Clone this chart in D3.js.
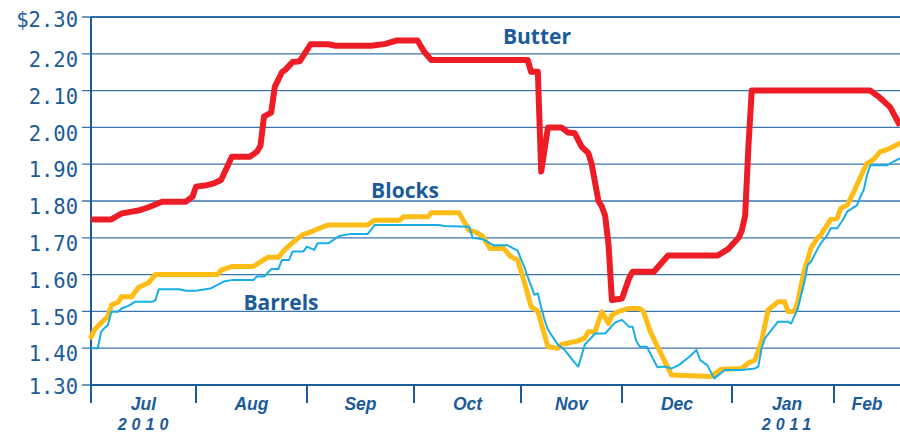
<!DOCTYPE html>
<html>
<head>
<meta charset="utf-8">
<script src="https://cdn.jsdelivr.net/npm/d3@7"></script>
<style>
  html, body { margin: 0; padding: 0; background: #fff; }
  svg { display: block; }
</style>
</head>
<body>
<svg id="chart" width="900" height="434"></svg>
<script>
// ---------------- DATA ----------------
const monthStarts = ["2010-07-01","2010-08-01","2010-09-01","2010-10-01","2010-11-01","2010-12-01","2011-01-01","2011-02-01"];
const monthLabels = ["Jul","Aug","Sep","Oct","Nov","Dec","Jan","Feb"];
const yearLabels = [["Jul","2010"],["Jan","2011"]];
const domainEnd = "2011-02-21";
const yTicks = [1.30,1.40,1.50,1.60,1.70,1.80,1.90,2.00,2.10,2.20,2.30];

const butter = [
 ["2010-07-01",1.75],["2010-07-07",1.75],["2010-07-10",1.766],["2010-07-13",1.771],["2010-07-15",1.774],
 ["2010-07-18",1.783],["2010-07-22",1.798],["2010-07-29",1.798],["2010-07-31",1.812],["2010-08-01",1.839],
 ["2010-08-04",1.843],["2010-08-06",1.848],["2010-08-08",1.857],["2010-08-11",1.92],["2010-08-16",1.92],
 ["2010-08-18",1.934],["2010-08-19",1.95],["2010-08-20",2.03],["2010-08-22",2.04],["2010-08-23",2.11],
 ["2010-08-25",2.15],["2010-08-26",2.157],["2010-08-28",2.178],["2010-08-30",2.18],["2010-09-02",2.226],
 ["2010-09-07",2.226],["2010-09-09",2.222],["2010-09-19",2.222],["2010-09-23",2.227],["2010-09-26",2.236],
 ["2010-10-02",2.236],["2010-10-04",2.205],["2010-10-06",2.183],["2010-11-03",2.183],["2010-11-04",2.151],
 ["2010-11-06",2.151],["2010-11-07",1.88],["2010-11-09",2.00],["2010-11-13",2.00],["2010-11-15",1.986],
 ["2010-11-17",1.984],["2010-11-19",1.948],["2010-11-21",1.93],["2010-11-22",1.90],["2010-11-24",1.80],
 ["2010-11-25",1.785],["2010-11-26",1.76],["2010-11-27",1.68],["2010-11-28",1.531],["2010-12-01",1.535],
 ["2010-12-03",1.59],["2010-12-04",1.608],["2010-12-10",1.608],["2010-12-12",1.63],["2010-12-14",1.652],
 ["2010-12-28",1.652],["2010-12-31",1.67],["2011-01-03",1.70],["2011-01-04",1.72],["2011-01-05",1.76],
 ["2011-01-06",1.95],["2011-01-07",2.10],["2011-02-12",2.10],["2011-02-15",2.08],["2011-02-18",2.055],
 ["2011-02-21",2.005]
];

const blocks = [
 ["2010-07-01",1.43],["2010-07-02",1.45],["2010-07-05",1.478],["2010-07-06",1.486],["2010-07-07",1.517],
 ["2010-07-09",1.525],["2010-07-10",1.54],["2010-07-13",1.54],["2010-07-15",1.565],["2010-07-18",1.578],
 ["2010-07-20",1.60],["2010-08-07",1.60],["2010-08-08",1.612],["2010-08-11",1.622],["2010-08-17",1.622],
 ["2010-08-21",1.647],["2010-08-24",1.647],["2010-08-26",1.67],["2010-08-29",1.695],["2010-08-31",1.71],
 ["2010-09-01",1.712],["2010-09-03",1.72],["2010-09-07",1.735],["2010-09-18",1.735],["2010-09-20",1.748],
 ["2010-09-27",1.748],["2010-09-28",1.757],["2010-10-05",1.757],["2010-10-06",1.768],["2010-10-14",1.768],
 ["2010-10-17",1.72],["2010-10-19",1.715],["2010-10-21",1.703],["2010-10-23",1.671],["2010-10-27",1.671],
 ["2010-10-29",1.649],["2010-10-31",1.64],["2010-11-02",1.58],["2010-11-04",1.513],["2010-11-06",1.50],
 ["2010-11-09",1.404],["2010-11-12",1.40],["2010-11-13",1.41],["2010-11-18",1.42],["2010-11-20",1.428],
 ["2010-11-21",1.445],["2010-11-23",1.445],["2010-11-25",1.499],["2010-11-27",1.467],["2010-11-28",1.49],
 ["2010-11-30",1.50],["2010-12-03",1.508],["2010-12-06",1.508],["2010-12-07",1.50],["2010-12-09",1.445],
 ["2010-12-11",1.404],["2010-12-15",1.327],["2010-12-26",1.323],["2010-12-29",1.343],["2011-01-04",1.345],
 ["2011-01-06",1.36],["2011-01-08",1.368],["2011-01-10",1.42],["2011-01-12",1.504],["2011-01-15",1.526],
 ["2011-01-17",1.526],["2011-01-18",1.50],["2011-01-20",1.50],["2011-01-21",1.526],["2011-01-23",1.613],
 ["2011-01-24",1.64],["2011-01-25",1.672],["2011-01-27",1.70],["2011-01-28",1.708],["2011-01-31",1.75],
 ["2011-02-02",1.753],["2011-02-03",1.78],["2011-02-05",1.789],["2011-02-07",1.825],["2011-02-10",1.884],
 ["2011-02-11",1.902],["2011-02-13",1.913],["2011-02-15",1.934],["2011-02-17",1.939],["2011-02-19",1.948],
 ["2011-02-21",1.957]
];

const barrels = [
 ["2010-07-01",1.40],["2010-07-03",1.40],["2010-07-04",1.445],["2010-07-05",1.455],["2010-07-06",1.463],
 ["2010-07-07",1.499],["2010-07-09",1.499],["2010-07-10",1.508],["2010-07-12",1.515],["2010-07-14",1.526],
 ["2010-07-19",1.526],["2010-07-20",1.53],["2010-07-21",1.56],["2010-07-27",1.56],["2010-07-29",1.556],
 ["2010-08-01",1.556],["2010-08-05",1.562],["2010-08-07",1.572],["2010-08-09",1.582],["2010-08-11",1.585],
 ["2010-08-17",1.585],["2010-08-18",1.595],["2010-08-20",1.595],["2010-08-22",1.615],["2010-08-24",1.615],
 ["2010-08-25",1.64],["2010-08-27",1.64],["2010-08-28",1.663],["2010-08-31",1.663],["2010-09-01",1.676],
 ["2010-09-03",1.667],["2010-09-04",1.685],["2010-09-07",1.685],["2010-09-10",1.705],["2010-09-13",1.71],
 ["2010-09-18",1.71],["2010-09-20",1.735],["2010-10-08",1.735],["2010-10-10",1.732],["2010-10-17",1.73],
 ["2010-10-18",1.70],["2010-10-21",1.696],["2010-10-24",1.68],["2010-10-28",1.68],["2010-10-31",1.665],
 ["2010-11-02",1.62],["2010-11-03",1.594],["2010-11-05",1.545],["2010-11-06",1.549],["2010-11-07",1.51],
 ["2010-11-08",1.477],["2010-11-09",1.45],["2010-11-12",1.409],["2010-11-14",1.395],["2010-11-17",1.36],
 ["2010-11-18",1.35],["2010-11-20",1.41],["2010-11-21",1.42],["2010-11-23",1.44],["2010-11-26",1.44],
 ["2010-11-29",1.47],["2010-12-01",1.477],["2010-12-03",1.458],["2010-12-04",1.458],["2010-12-05",1.42],
 ["2010-12-06",1.404],["2010-12-08",1.404],["2010-12-11",1.348],["2010-12-13",1.35],["2010-12-15",1.345],
 ["2010-12-17",1.354],["2010-12-20",1.377],["2010-12-22",1.395],["2010-12-23",1.368],["2010-12-25",1.354],
 ["2010-12-27",1.318],["2010-12-30",1.341],["2011-01-04",1.341],["2011-01-08",1.345],["2011-01-09",1.35],
 ["2011-01-10",1.40],["2011-01-11",1.427],["2011-01-13",1.45],["2011-01-15",1.472],["2011-01-18",1.472],
 ["2011-01-19",1.467],["2011-01-21",1.508],["2011-01-23",1.58],["2011-01-24",1.626],["2011-01-25",1.635],
 ["2011-01-27",1.67],["2011-01-28",1.685],["2011-01-30",1.708],["2011-01-31",1.726],["2011-02-02",1.726],
 ["2011-02-04",1.753],["2011-02-05",1.771],["2011-02-08",1.789],["2011-02-09",1.812],["2011-02-10",1.83],
 ["2011-02-11",1.87],["2011-02-12",1.897],["2011-02-17",1.897],["2011-02-19",1.907],["2011-02-21",1.916]
];

// ---------------- CHART ----------------
const parse = d3.timeParse("%Y-%m-%d");
const svg = d3.select("#chart");
const W = 900, H = 434;
svg.append("rect").attr("width", W).attr("height", H).attr("fill", "#fff");

const blue = "#1b5b9a";
const gridBlue = "#3a75ad";

// piecewise time scale (month widths in the original are uneven)
const xDomain = monthStarts.map(parse).concat([parse(domainEnd)]);
const x = d3.scaleTime()
  .domain(xDomain)
  .range([91, 196, 307, 414, 521, 622, 732, 834, 900]);
const y = d3.scaleLinear().domain([1.30, 2.30]).range([385, 17]);

// gridlines
svg.append("g").selectAll("line").data(yTicks).join("line")
  .attr("x1", 82).attr("x2", 900)
  .attr("y1", d => y(d)).attr("y2", d => y(d))
  .attr("stroke", gridBlue).attr("stroke-width", 1.3);

// y labels
svg.append("g").selectAll("text").data(yTicks).join("text")
  .attr("x", 78)
  .attr("y", d => y(d) + (d === 1.30 ? 2 : d === 2.30 ? 3 : 6))
  .attr("dy", "0.35em")
  .attr("text-anchor", "end")
  .attr("font-family", "'DejaVu Sans Mono', 'Liberation Mono', monospace")
  .attr("font-size", 20.5)
  .attr("fill", blue)
  .text((d, i) => (i === yTicks.length - 1 ? "$" : "") + d.toFixed(2));

// axes
svg.append("line").attr("x1", 91).attr("x2", 900).attr("y1", y(1.30)).attr("y2", y(1.30))
  .attr("stroke", blue).attr("stroke-width", 2);
svg.append("line").attr("x1", 91).attr("x2", 91).attr("y1", y(2.30)).attr("y2", 403)
  .attr("stroke", blue).attr("stroke-width", 2);
svg.append("line").attr("x1", 91).attr("x2", 900).attr("y1", y(2.30)).attr("y2", y(2.30))
  .attr("stroke", blue).attr("stroke-width", 1.5);

const monthDates = monthStarts.map(parse);
svg.append("g").selectAll("line").data(monthDates.slice(1)).join("line")
  .attr("x1", d => x(d)).attr("x2", d => x(d))
  .attr("y1", y(1.30)).attr("y2", 403)
  .attr("stroke", blue).attr("stroke-width", 2);

const monthMid = (i) => {
  const a = x(monthDates[i]);
  const b = i + 1 < monthDates.length ? x(monthDates[i + 1]) : x(parse(domainEnd));
  return (a + b) / 2;
};
svg.append("g").selectAll("text").data(monthLabels).join("text")
  .attr("x", (d, i) => monthMid(i) + (d === "Jan" ? 4 : 0))
  .attr("y", 410)
  .attr("text-anchor", "middle")
  .attr("font-family", "'Liberation Sans', Arial, sans-serif")
  .attr("font-weight", "bold").attr("font-style", "italic")
  .attr("font-size", 17.5)
  .attr("fill", blue)
  .text(d => d);

svg.append("g").selectAll("text").data(yearLabels).join("text")
  .attr("x", d => monthMid(monthLabels.indexOf(d[0])) + (d[0] === "Jan" ? 4 : 0) + 2)
  .attr("y", 430)
  .attr("text-anchor", "middle")
  .attr("font-family", "'Liberation Sans', Arial, sans-serif")
  .attr("font-weight", "bold").attr("font-style", "italic")
  .attr("font-size", 16)
  .attr("letter-spacing", 5)
  .attr("fill", blue)
  .text(d => d[1]);

// lines
const line = d3.line().x(d => x(parse(d[0]))).y(d => y(d[1]));
svg.append("path").datum(blocks).attr("d", line)
  .attr("fill", "none").attr("stroke", "#fdbd16").attr("stroke-width", 5)
  .attr("stroke-linejoin", "round").attr("stroke-linecap", "round");
svg.append("path").datum(barrels).attr("d", line)
  .attr("fill", "none").attr("stroke", "#17aee8").attr("stroke-width", 2)
  .attr("stroke-linejoin", "round");
svg.append("path").datum(butter).attr("d", line)
  .attr("fill", "none").attr("stroke", "#ee1d25").attr("stroke-width", 6)
  .attr("stroke-linejoin", "round").attr("stroke-linecap", "butt");

// series labels
const seriesLabels = [["Butter", 537, 44], ["Blocks", 405, 198], ["Barrels", 281, 310]];
svg.append("g").selectAll("text").data(seriesLabels).join("text")
  .attr("x", d => d[1]).attr("y", d => d[2])
  .attr("text-anchor", "middle")
  .attr("font-family", "'Open Sans', 'DejaVu Sans', sans-serif")
  .attr("font-weight", "bold")
  .attr("font-size", 21)
  .attr("fill", blue)
  .text(d => d[0]);
</script>
</body>
</html>
